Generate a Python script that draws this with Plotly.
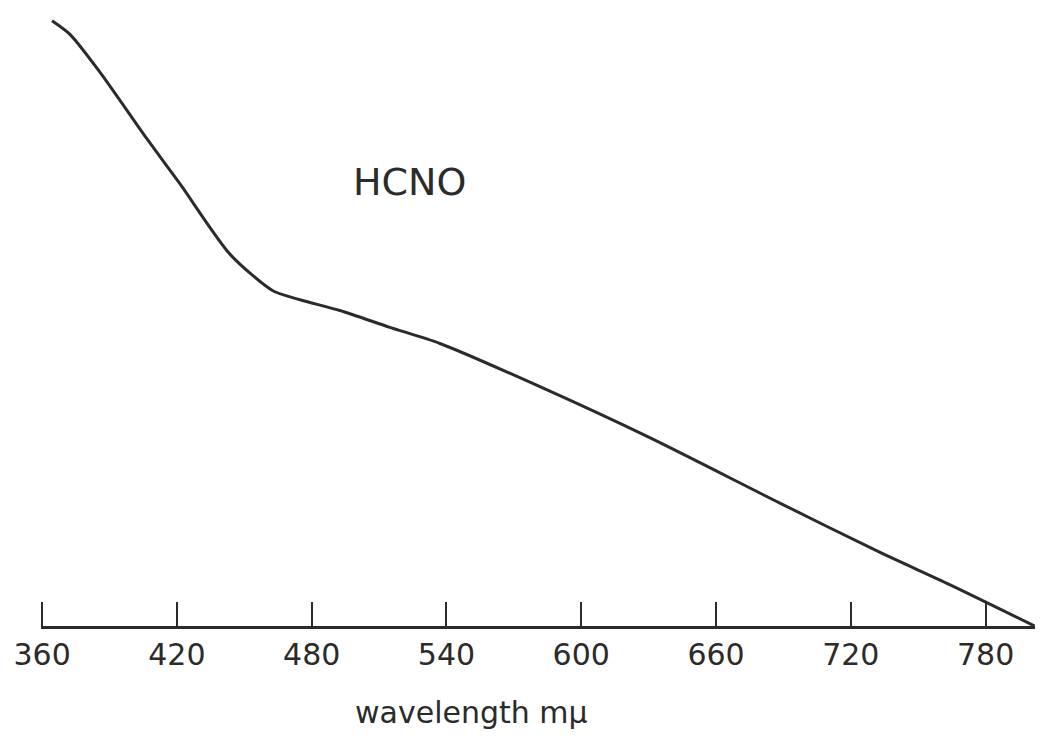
import plotly.graph_objects as go

# Absorption curve of HCNO (relative optical density vs wavelength in mμ)
wavelength = [364.4, 372.5, 385.8, 406.7, 421.4, 443.6, 462.7, 474.8, 492.6,
              514.8, 537.1, 581.6, 630.5, 688.4, 732.8, 764.0, 801.8]
density = [1.009, 0.986, 0.923, 0.812, 0.737, 0.620, 0.559, 0.544, 0.526,
           0.498, 0.471, 0.399, 0.314, 0.205, 0.123, 0.069, 0.0]

tick_values = [360, 420, 480, 540, 600, 660, 720, 780]
tick_labels = ["360", "420", "480", "540", "600", "660", "720", "780"]

ink = "#2b2b2b"
font_family = "DejaVu Sans, Liberation Sans, sans-serif"

fig = go.Figure()
fig.add_trace(go.Scatter(
    x=wavelength, y=density,
    mode="lines",
    line=dict(color=ink, width=3, shape="spline", smoothing=0.7),
    hoverinfo="skip",
    showlegend=False,
    cliponaxis=False,
))

fig.update_xaxes(
    range=[359.5, 802],
    tickvals=tick_values,
    ticktext=tick_labels,
    ticks="inside",
    ticklen=24,
    tickwidth=2,
    tickcolor=ink,
    showline=True,
    linewidth=3,
    linecolor=ink,
    showgrid=False,
    zeroline=False,
    tickfont=dict(family=font_family, size=30, color=ink),
)
fig.update_yaxes(
    range=[0, 1.027],
    visible=False,
    showgrid=False,
    zeroline=False,
)

fig.add_annotation(
    x=523.7, y=0.74, xref="x", yref="y",
    text="HCNO", showarrow=False,
    font=dict(family=font_family, size=38, color=ink),
)
fig.add_annotation(
    x=551.3, y=-0.141, xref="x", yref="paper",
    yanchor="middle",
    text="wavelength mμ", showarrow=False,
    font=dict(family=font_family, size=30, color=ink),
)

fig.update_layout(
    width=1046, height=740,
    margin=dict(l=41, r=11, t=10, b=114),
    paper_bgcolor="white",
    plot_bgcolor="white",
)

fig.write_html("out.html")
